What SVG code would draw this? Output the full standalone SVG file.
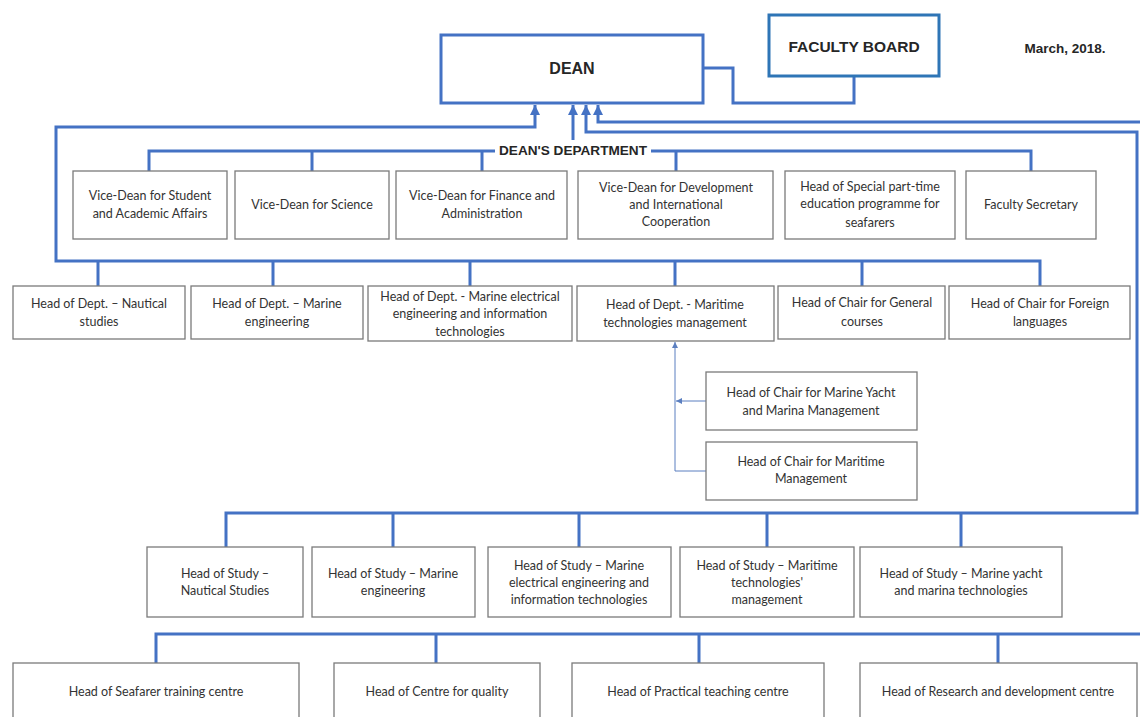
<svg xmlns="http://www.w3.org/2000/svg" width="1140" height="717" viewBox="0 0 1140 717">
<defs>
<style>
.box{fill:#fff;stroke:#7a7a7a;stroke-width:1.3}
.t{font-family:Lato,"Liberation Sans",sans-serif;font-size:12.5px;fill:#333;text-anchor:middle}
.h{font-family:"Liberation Sans",Arial,sans-serif;font-weight:bold;fill:#262626;text-anchor:middle}
.c{fill:none;stroke:#4472c4;stroke-width:3}
.thin{fill:none;stroke:#5b7fc0;stroke-width:1}
</style>
<marker id="ah" viewBox="0 0 10 10" refX="10" refY="5" markerWidth="11" markerHeight="10" markerUnits="userSpaceOnUse" orient="auto">
<path d="M0,0 L10,5 L0,10 z" fill="#4472c4"/>
</marker>
<marker id="as" viewBox="0 0 10 10" refX="10" refY="5" markerWidth="7" markerHeight="6" markerUnits="userSpaceOnUse" orient="auto">
<path d="M0,0 L10,5 L0,10 z" fill="#5b7fc0"/>
</marker>
</defs>
<rect width="1140" height="717" fill="#fff"/>

<g id="connectors">
<path class="c" d="M703,68 H733 V103 H854 V77"/>
<path class="c" d="M1040,286 V261 H56 V127 H535 V105" marker-end="url(#ah)"/>
<path class="c" d="M98,261 V286 M273,261 V286 M470,261 V286 M675,261 V286 M862,261 V286"/>
<path class="c" d="M149,171 V151 H495 M651,151 H1031 V171 M312,151 V171 M482,151 V171 M676,151 V171"/>
<path class="c" d="M573,140 V105" marker-end="url(#ah)"/>
<path class="c" d="M226,547 V513 H1137 V132 H586 V105" marker-end="url(#ah)"/>
<path class="c" d="M393,513 V547 M579,513 V547 M767,513 V547 M961,513 V547"/>
<path class="c" d="M1142,122 H598 V105" marker-end="url(#ah)"/>
<path class="c" d="M1142,634 H156 V663 M436,634 V663 M699,634 V663 M998,634 V663"/>
<path class="thin" d="M706,471 H675 V342" marker-end="url(#as)"/>
<path class="thin" d="M706,401 H676" marker-end="url(#as)"/>
</g>

<g id="dean">
<rect x="441" y="35" width="262" height="68" fill="#fff" stroke="#4472c4" stroke-width="3"/>
<text class="h" x="572" y="74" font-size="16">DEAN</text>
</g>
<g id="faculty-board">
<rect x="769" y="15" width="170" height="61" fill="#fff" stroke="#2e75b6" stroke-width="3"/>
<text class="h" x="854" y="52" font-size="15.5">FACULTY BOARD</text>
</g>
<g id="date">
<text class="h" x="1065" y="53" font-size="13.5">March, 2018.</text>
</g>
<g id="deans-department">
<text class="h" x="573" y="155" font-size="13.6">DEAN'S DEPARTMENT</text>
</g>

<g id="vd-student"><rect class="box" x="73" y="171" width="154" height="68"/>
<text class="t" x="150" y="200">Vice-Dean for Student</text><text class="t" x="150" y="218">and Academic Affairs</text></g>
<g id="vd-science"><rect class="box" x="235" y="171" width="154" height="68"/>
<text class="t" x="312" y="209">Vice-Dean for Science</text></g>
<g id="vd-finance"><rect class="box" x="396" y="171" width="171" height="68"/>
<text class="t" x="482" y="200">Vice-Dean for Finance and</text><text class="t" x="482" y="218">Administration</text></g>
<g id="vd-development"><rect class="box" x="578" y="171" width="195" height="68"/>
<text class="t" x="676" y="192">Vice-Dean for Development</text><text class="t" x="676" y="209">and International</text><text class="t" x="676" y="226">Cooperation</text></g>
<g id="special-parttime"><rect class="box" x="785" y="171" width="170" height="68"/>
<text class="t" x="870" y="191">Head of Special part-time</text><text class="t" x="870" y="208">education programme for</text><text class="t" x="870" y="227">seafarers</text></g>
<g id="faculty-secretary"><rect class="box" x="966" y="171" width="130" height="68"/>
<text class="t" x="1031" y="209">Faculty Secretary</text></g>

<g id="dept-nautical"><rect class="box" x="13" y="286" width="172" height="53"/>
<text class="t" x="99" y="308">Head of Dept. – Nautical</text><text class="t" x="99" y="326">studies</text></g>
<g id="dept-marine-eng"><rect class="box" x="191" y="286" width="172" height="53"/>
<text class="t" x="277" y="308">Head of Dept. – Marine</text><text class="t" x="277" y="326">engineering</text></g>
<g id="dept-marine-el"><rect class="box" x="368" y="286" width="204" height="55"/>
<text class="t" x="470" y="301">Head of Dept. - Marine electrical</text><text class="t" x="470" y="318">engineering and information</text><text class="t" x="470" y="336">technologies</text></g>
<g id="dept-maritime"><rect class="box" x="577" y="286" width="197" height="55"/>
<text class="t" x="675" y="309">Head of Dept. - Maritime</text><text class="t" x="675" y="327">technologies management</text></g>
<g id="chair-general"><rect class="box" x="778" y="286" width="167" height="53"/>
<text class="t" x="862" y="307">Head of Chair for General</text><text class="t" x="862" y="326">courses</text></g>
<g id="chair-foreign"><rect class="box" x="949" y="286" width="181" height="53"/>
<text class="t" x="1040" y="308">Head of Chair for Foreign</text><text class="t" x="1040" y="326">languages</text></g>

<g id="chair-yacht"><rect class="box" x="706" y="372" width="211" height="58"/>
<text class="t" x="811" y="397">Head of Chair for Marine Yacht</text><text class="t" x="811" y="415">and Marina Management</text></g>
<g id="chair-maritime"><rect class="box" x="706" y="442" width="211" height="58"/>
<text class="t" x="811" y="466">Head of Chair for Maritime</text><text class="t" x="811" y="483">Management</text></g>

<g id="study-nautical"><rect class="box" x="147" y="547" width="156" height="70"/>
<text class="t" x="225" y="578">Head of Study –</text><text class="t" x="225" y="595">Nautical Studies</text></g>
<g id="study-marine-eng"><rect class="box" x="312" y="547" width="163" height="70"/>
<text class="t" x="393" y="578">Head of Study – Marine</text><text class="t" x="393" y="595">engineering</text></g>
<g id="study-marine-el"><rect class="box" x="488" y="547" width="183" height="70"/>
<text class="t" x="579" y="570">Head of Study – Marine</text><text class="t" x="579" y="587">electrical engineering and</text><text class="t" x="579" y="604">information technologies</text></g>
<g id="study-maritime"><rect class="box" x="680" y="547" width="174" height="70"/>
<text class="t" x="767" y="570">Head of Study – Maritime</text><text class="t" x="767" y="587">technologies'</text><text class="t" x="767" y="604">management</text></g>
<g id="study-yacht"><rect class="box" x="860" y="547" width="202" height="70"/>
<text class="t" x="961" y="578">Head of Study – Marine yacht</text><text class="t" x="961" y="595">and marina technologies</text></g>

<g id="seafarer-centre"><rect class="box" x="13" y="663" width="286" height="64"/>
<text class="t" x="156" y="696">Head of Seafarer training centre</text></g>
<g id="quality-centre"><rect class="box" x="334" y="663" width="206" height="64"/>
<text class="t" x="437" y="696">Head of Centre for quality</text></g>
<g id="practical-centre"><rect class="box" x="572" y="663" width="252" height="64"/>
<text class="t" x="698" y="696">Head of Practical teaching centre</text></g>
<g id="research-centre"><rect class="box" x="860" y="663" width="277" height="64"/>
<text class="t" x="998" y="696">Head of Research and development centre</text></g>
</svg>
